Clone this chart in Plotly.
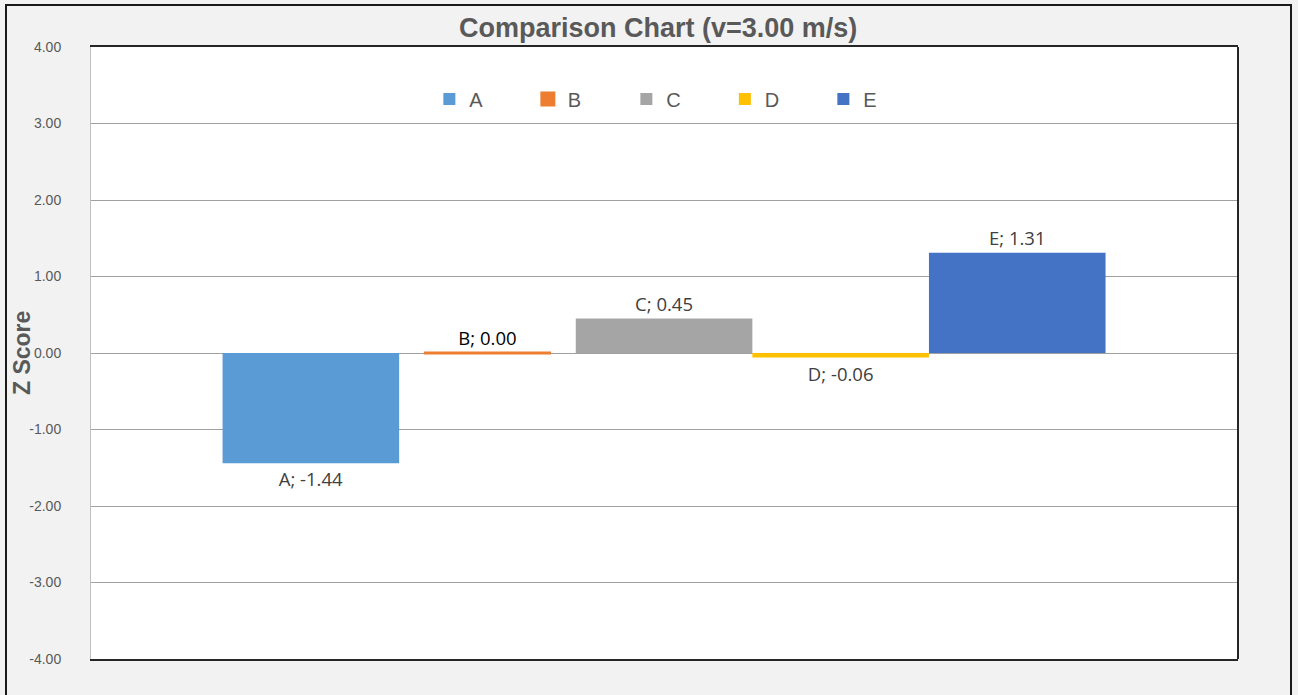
import plotly.graph_objects as go

series = ["A", "B", "C", "D", "E"]
values = [-1.44, 0.00, 0.45, -0.06, 1.31]
colors = ["#5b9bd5", "#ed7d31", "#a5a5a5", "#ffc000", "#4472c4"]
label_colors = ["#404040", "#000000", "#404040", "#404040", "#404040"]
bar_widths = [1.0, 0.72, 1.0, 1.0, 1.0]
y_ticks = [4, 3, 2, 1, 0, -1, -2, -3, -4]
title_text = "Comparison Chart (v=3.00 m/s)"
y_title = "Z Score"

fig = go.Figure()
for i, (s, v) in enumerate(zip(series, values)):
    fig.add_trace(go.Bar(
        x=[i], y=[v], name=s, width=[bar_widths[i]],
        marker=dict(color=colors[i], line=dict(color=colors[i], width=3 if v == 0 else 0)),
        text=[f"{s}; {v:.2f}"], textposition="outside",
        textfont=dict(family="Open Sans", size=18.5, color=label_colors[i]),
        cliponaxis=False,
    ))

fig.update_layout(
    width=1298, height=695,
    margin=dict(l=91, r=60, t=47, b=36, autoexpand=False),
    paper_bgcolor="#f2f2f2", plot_bgcolor="#ffffff",
    barmode="overlay",
    title=dict(text=f"<b>{title_text}</b>", x=0.507, xanchor="center", y=0.961, yanchor="middle",
               font=dict(family="Liberation Sans, Arial", size=27, color="#595959"),
               automargin=False),
    showlegend=True,
    legend=dict(orientation="h", x=0.295, xanchor="left", y=0.915, yanchor="middle",
                entrywidth=53.5, entrywidthmode="pixels", bgcolor="rgba(0,0,0,0)",
                font=dict(family="Liberation Sans, Arial", size=20, color="#595959"),
                itemclick=False),
    xaxis=dict(range=[-1.245, 5.25], showticklabels=False, showgrid=False, zeroline=False,
               showline=True, mirror=True, linecolor="#262626", linewidth=2, fixedrange=True,
               automargin=False),
    yaxis=dict(range=[-4, 4], tickvals=y_ticks, ticktext=[f"{t:.2f}" for t in y_ticks],
               tickfont=dict(family="Liberation Sans, Arial", size=14, color="#595959"),
               ticklabelstandoff=26, automargin=False,
               showgrid=True, gridcolor="#a0a0a0", gridwidth=1.2,
               zeroline=True, zerolinecolor="#a0a0a0", zerolinewidth=1.2,
               showline=True, linecolor="#c0c0c0", linewidth=1, ticks="", ticklen=0),
    annotations=[
        dict(text=f"<b>{y_title}</b>", xref="paper", yref="paper",
             x=(22 - 91) / 1147, y=0.5, xanchor="center", yanchor="middle",
             textangle=-90, showarrow=False,
             font=dict(family="Liberation Sans, Arial", size=23, color="#595959")),
    ],
    shapes=[
        dict(type="line", xref="paper", yref="paper", x0=1, x1=1, y0=0, y1=1,
             line=dict(color="#262626", width=2)),
        dict(type="rect", xref="paper", yref="paper",
             x0=(6 - 91) / 1147, x1=(1291 - 91) / 1147, y0=-0.2, y1=(659 - 5) / 612,
             line=dict(color="#1a1a1a", width=2), fillcolor="rgba(0,0,0,0)", layer="below"),
    ],
)

fig.write_html("out.html", config={"displayModeBar": False},
               post_script="document.body.style.margin='0';")
